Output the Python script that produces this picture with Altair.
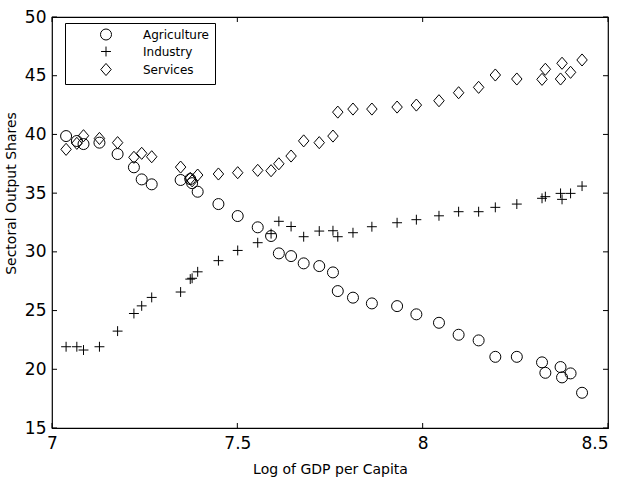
import altair as alt
import pandas as pd

# Log of GDP per capita (shared by all three sectors)
log_gdp = [7.038, 7.067, 7.085, 7.128, 7.177, 7.221, 7.242, 7.269, 7.347, 7.373,
           7.378, 7.393, 7.449, 7.501, 7.555, 7.591, 7.612, 7.645, 7.679, 7.721,
           7.758, 7.771, 7.812, 7.863, 7.931, 7.983, 8.044, 8.097, 8.151, 8.196,
           8.254, 8.322, 8.331, 8.372, 8.376, 8.399, 8.430]

agriculture = [39.86, 39.44, 39.18, 39.30, 38.33, 37.20, 36.17, 35.75, 36.12, 36.20,
               35.85, 35.12, 34.07, 33.05, 32.09, 31.35, 29.87, 29.64, 29.02, 28.79,
               28.25, 26.66, 26.10, 25.61, 25.38, 24.68, 23.96, 22.94, 22.46, 21.06,
               21.06, 20.59, 19.70, 20.19, 19.31, 19.65, 18.00]

industry = [21.92, 21.92, 21.64, 21.92, 23.25, 24.75, 25.40, 26.12, 26.58, 27.68,
            27.75, 28.30, 29.25, 30.12, 30.78, 31.55, 32.60, 32.16, 31.29, 31.77,
            31.80, 31.29, 31.63, 32.14, 32.48, 32.74, 33.07, 33.42, 33.42, 33.79,
            34.07, 34.56, 34.70, 34.98, 34.47, 34.98, 35.60]

services = [38.73, 39.24, 39.89, 39.66, 39.30, 38.05, 38.39, 38.10, 37.22, 36.26,
            36.05, 36.54, 36.63, 36.74, 36.94, 36.91, 37.50, 38.16, 39.45, 39.30,
            39.86, 41.90, 42.16, 42.16, 42.33, 42.50, 42.87, 43.55, 44.01, 45.06,
            44.72, 44.69, 45.55, 44.72, 46.06, 45.29, 46.34]

sectors = ["Agriculture", "Industry", "Services"]
x_ticks = [7, 7.5, 8, 8.5]
y_ticks = [15, 20, 25, 30, 35, 40, 45, 50]

rows = []
for name, vals in zip(sectors, [agriculture, industry, services]):
    for xv, yv in zip(log_gdp, vals):
        rows.append({"gdp": xv, "share": yv, "sector": name})
df = pd.DataFrame(rows)

W, H = 556, 411
TICK = 5
FONT = "DejaVu Sans"

x_scale = alt.Scale(domain=[7, 8.5], nice=False, zero=False)
y_scale = alt.Scale(domain=[15, 50], nice=False, zero=False)

# open circle, thin plus, tall diamond
plus_path = "M-0.9,0L0.9,0M0,-0.9L0,0.9"
diamond_path = "M0,-1.1L0.95,0L0,1.1L-0.95,0Z"

# the last x label is right-aligned so it stays inside the figure
last_x_right = {"condition": {"test": f"datum.value >= {x_ticks[-1]}", "value": "right"},
                "value": "center"}

x_axis = alt.Axis(values=x_ticks, format="~g", title="Log of GDP per Capita",
                  domain=False, ticks=False, grid=False, labelFlush=False,
                  labelOverlap=False, labelPadding=7, labelAlign=last_x_right,
                  titleY=45.5, titleBaseline="alphabetic")
y_axis = alt.Axis(values=y_ticks, format="~g", title="Sectoral Output Shares",
                  domain=False, ticks=False, grid=False, labelFlush=False,
                  labelOverlap=False, labelPadding=6, titleX=-37, titleY=176,
                  titleAngle=270, titleAlign="center", titleBaseline="alphabetic")

points = alt.Chart(df).mark_point(
    filled=False, color="black", strokeWidth=1, size=121, opacity=1
).encode(
    x=alt.X("gdp:Q", scale=x_scale, axis=x_axis),
    y=alt.Y("share:Q", scale=y_scale, axis=y_axis),
    shape=alt.Shape(
        "sector:N",
        scale=alt.Scale(domain=sectors, range=["circle", plus_path, diamond_path]),
        legend=alt.Legend(
            orient="none", legendX=13, legendY=6, title=None,
            strokeColor="black", fillColor="white", padding=5.5,
            symbolOffset=29.5, labelOffset=31, rowPadding=2,
            symbolSize=121, symbolStrokeWidth=1, symbolStrokeColor="black",
            symbolFillColor="transparent", labelFont=FONT, labelFontSize=12,
            labelColor="black",
        ),
    ),
)

# inward-pointing tick marks on all four sides of the frame
xt = pd.DataFrame({"gdp": x_ticks})
yt = pd.DataFrame({"share": y_ticks})
tick_style = dict(color="black", strokeWidth=1)
bottom_ticks = alt.Chart(xt).mark_rule(**tick_style).encode(
    x=alt.X("gdp:Q", scale=x_scale), y=alt.value(H - TICK), y2=alt.value(H))
top_ticks = alt.Chart(xt).mark_rule(**tick_style).encode(
    x=alt.X("gdp:Q", scale=x_scale), y=alt.value(0), y2=alt.value(TICK))
left_ticks = alt.Chart(yt).mark_rule(**tick_style).encode(
    y=alt.Y("share:Q", scale=y_scale), x=alt.value(0), x2=alt.value(TICK))
right_ticks = alt.Chart(yt).mark_rule(**tick_style).encode(
    y=alt.Y("share:Q", scale=y_scale), x=alt.value(W - TICK), x2=alt.value(W))

chart = alt.layer(points, bottom_ticks, top_ticks, left_ticks, right_ticks).properties(
    width=W, height=H,
    padding={"left": 52, "top": 17, "right": 11, "bottom": 50},
    autosize=alt.AutoSizeParams(type="none"),
    background="white",
).configure_view(
    stroke="black", strokeWidth=1.2, fill="white"
).configure_axis(
    labelFont=FONT, labelFontSize=17, labelColor="black",
    titleFont=FONT, titleFontSize=14, titleFontWeight="normal", titleColor="black",
)

chart.save("out.html", embed_options={"renderer": "svg", "actions": False})
